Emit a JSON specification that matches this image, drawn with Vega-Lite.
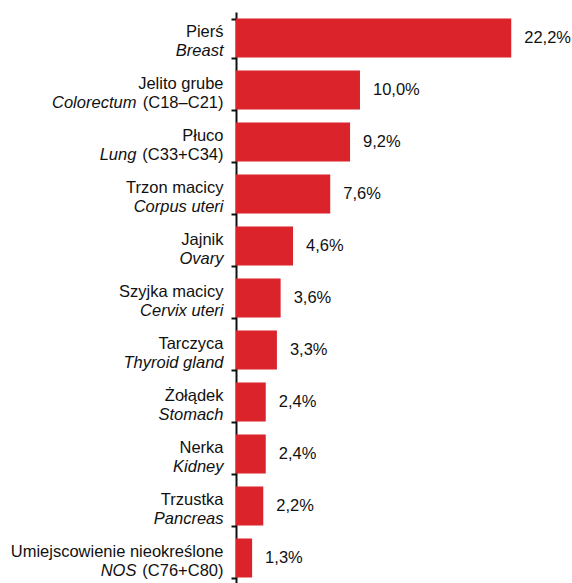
{
  "$schema": "https://vega.github.io/schema/vega-lite/v6.json",
  "autosize": {"type": "none"},
  "padding": {"left": 236, "top": 12, "right": 0, "bottom": 0},
  "width": 336,
  "height": 572,
  "background": "white",
  "data": {
    "values": [
      {"label": "Pierś|Breast|", "value": 22.2},
      {"label": "Jelito grube|Colorectum|(C18–C21)", "value": 10.0},
      {"label": "Płuco|Lung|(C33+C34)", "value": 9.2},
      {"label": "Trzon macicy|Corpus uteri|", "value": 7.6},
      {"label": "Jajnik|Ovary|", "value": 4.6},
      {"label": "Szyjka macicy|Cervix uteri|", "value": 3.6},
      {"label": "Tarczyca|Thyroid gland|", "value": 3.3},
      {"label": "Żołądek|Stomach|", "value": 2.4},
      {"label": "Nerka|Kidney|", "value": 2.4},
      {"label": "Trzustka|Pancreas|", "value": 2.2},
      {"label": "Umiejscowienie nieokreślone|NOS|(C76+C80)", "value": 1.3}
    ]
  },
  "transform": [
    {"calculate": "replace(format(datum.value, '.1f'), '.', ',') + '%'", "as": "pct"}
  ],
  "layer": [
    {
      "mark": {"type": "bar", "color": "#DA232A"},
      "encoding": {
        "y": {
          "field": "label",
          "type": "nominal",
          "sort": null,
          "scale": {"paddingInner": 0.25, "paddingOuter": 0.125},
          "axis": {
            "title": null,
            "orient": "left",
            "labelExpr": "isString(datum.value) ? [split(datum.value, '|')[0], split(datum.value, '|')[2]] : ''",
            "labelFont": "Liberation Sans",
            "labelFontSize": 16.5,
            "labelColor": "#111111",
            "labelLineHeight": 19,
            "labelPadding": 8,
            "labelOffset": -7,
            "labelLimit": 400,
            "labelOverlap": false,
            "labelBound": false,
            "tickBand": "extent",
            "tickSize": 5,
            "tickWidth": 2,
            "tickColor": "#111111",
            "domainColor": "#111111",
            "domainWidth": 2,
            "grid": false
          }
        },
        "x": {
          "field": "value",
          "type": "quantitative",
          "scale": {"domain": [0, 27.1], "nice": false},
          "axis": null
        }
      }
    },
    {
      "mark": {
        "type": "text",
        "align": "left",
        "baseline": "middle",
        "dx": 13,
        "font": "Liberation Sans",
        "fontSize": 16.5,
        "color": "#111111"
      },
      "encoding": {
        "y": {
          "field": "label",
          "type": "nominal",
          "sort": null,
          "axis": {
            "title": null,
            "orient": "left",
            "labelExpr": "isString(datum.value) ? ['', split(datum.value, '|')[1] + (split(datum.value, '|')[2] == '' ? '' : '\u00a0\u00a0\u00a0\u00a0\u00a0\u00a0\u00a0\u00a0\u00a0\u00a0\u00a0\u00a0\u00a0\u00a0\u00a0\u00a0\u00a0\u00a0\u00a0\u200b')] : ''",
            "labelFont": "Liberation Sans",
            "labelFontSize": 16.5,
            "labelFontStyle": "italic",
            "labelColor": "#111111",
            "labelLineHeight": 19,
            "labelPadding": 8,
            "labelOffset": -7,
            "labelLimit": 400,
            "labelOverlap": false,
            "labelBound": false,
            "tickBand": "extent",
            "tickSize": 5,
            "tickOpacity": 0,
            "domain": false,
            "grid": false
          }
        },
        "x": {"field": "value", "type": "quantitative"},
        "text": {"field": "pct", "type": "nominal"}
      }
    }
  ],
  "resolve": {"axis": {"y": "independent"}},
  "config": {"view": {"stroke": null}}
}
